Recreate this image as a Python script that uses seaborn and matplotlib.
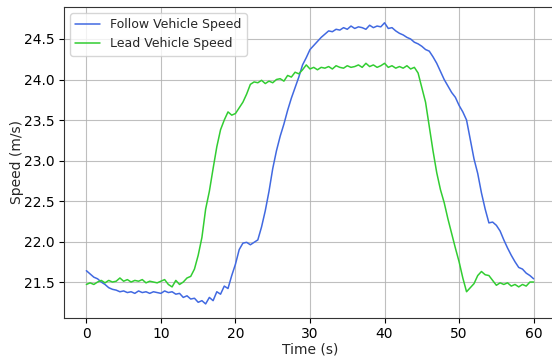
import numpy as np
import pandas as pd
import matplotlib
matplotlib.use("Agg")
import matplotlib.pyplot as plt
import seaborn as sns

time_s = np.arange(0, 60.01, 0.5)

follow_speed = [
    21.64, 21.60, 21.56, 21.54, 21.50, 21.47, 21.43, 21.41, 21.40, 21.38,
    21.39, 21.37, 21.38, 21.36, 21.39, 21.37, 21.38, 21.36, 21.38, 21.37,
    21.36, 21.39, 21.37, 21.38, 21.35, 21.36, 21.31, 21.33, 21.29, 21.30,
    21.25, 21.27, 21.23, 21.31, 21.27, 21.38, 21.35, 21.45, 21.42, 21.58,
    21.72, 21.90, 21.98, 21.99, 21.96, 21.99, 22.02, 22.18, 22.38, 22.62,
    22.90, 23.12, 23.30, 23.45, 23.62, 23.77, 23.90, 24.03, 24.18, 24.27,
    24.37, 24.42, 24.47, 24.52, 24.56, 24.60, 24.59, 24.62, 24.61, 24.64,
    24.62, 24.66, 24.63, 24.65, 24.64, 24.62, 24.67, 24.64, 24.66, 24.65,
    24.70, 24.63, 24.64, 24.60, 24.57, 24.55, 24.52, 24.50, 24.46, 24.44,
    24.41, 24.37, 24.35, 24.28, 24.20, 24.10, 24.00, 23.92, 23.84, 23.78,
    23.68, 23.60, 23.50, 23.26, 23.02, 22.84, 22.60, 22.40, 22.23, 22.24,
    22.20, 22.13, 22.02, 21.92, 21.83, 21.75, 21.68, 21.66, 21.61, 21.58,
    21.54,
]

lead_speed = [
    21.47, 21.49, 21.47, 21.50, 21.52, 21.49, 21.52, 21.50, 21.51, 21.55,
    21.51, 21.53, 21.50, 21.52, 21.51, 21.53, 21.49, 21.51, 21.50, 21.49,
    21.51, 21.53, 21.47, 21.44, 21.52, 21.47, 21.50, 21.55, 21.57, 21.66,
    21.83, 22.05, 22.40, 22.62, 22.90, 23.17, 23.38, 23.50, 23.60, 23.56,
    23.58, 23.65, 23.72, 23.82, 23.94, 23.97, 23.96, 23.99, 23.95, 23.98,
    23.96, 24.00, 24.01, 23.98, 24.05, 24.03, 24.09, 24.07, 24.12, 24.18,
    24.13, 24.15, 24.12, 24.15, 24.14, 24.16, 24.13, 24.17, 24.15, 24.14,
    24.17, 24.15, 24.16, 24.18, 24.15, 24.20, 24.16, 24.18, 24.15, 24.17,
    24.20, 24.15, 24.17, 24.14, 24.16, 24.14, 24.17, 24.13, 24.15, 24.08,
    23.90, 23.72, 23.42, 23.12, 22.85, 22.64, 22.48, 22.28, 22.10, 21.92,
    21.75, 21.55, 21.38, 21.43, 21.48, 21.58, 21.63, 21.59, 21.58, 21.52,
    21.46, 21.49, 21.47, 21.49, 21.45, 21.47, 21.44, 21.47, 21.45, 21.50,
    21.50,
]

series_names = ["Follow Vehicle Speed", "Lead Vehicle Speed"]
series_colors = ["#4169E1", "#32CD32"]

df = pd.concat([
    pd.DataFrame({"Time": time_s, "Speed": follow_speed, "Series": series_names[0]}),
    pd.DataFrame({"Time": time_s, "Speed": lead_speed, "Series": series_names[1]}),
])

sns.set_theme(style="ticks")
plt.rcParams["font.family"] = ["DejaVu Sans"]

fig = plt.figure(figsize=(5.52, 3.58), dpi=100)
ax = fig.add_axes([64 / 552, 1 - 318 / 358, (556 - 64) / 552, (318 - 7) / 358])

sns.lineplot(data=df, x="Time", y="Speed", hue="Series",
             palette=dict(zip(series_names, series_colors)),
             linewidth=1.1, ax=ax)

ax.set_xlim(-3, 63)
ax.set_ylim(21.056, 24.895)
ax.set_xticks([0, 10, 20, 30, 40, 50, 60])
ax.set_yticks([21.5, 22.0, 22.5, 23.0, 23.5, 24.0, 24.5])
ax.grid(True, color="#b0b0b0", linewidth=0.8, alpha=0.8)
ax.set_axisbelow(True)
ax.tick_params(labelsize=10, length=3.5, width=0.8, colors="black", pad=3)
for s in ax.spines.values():
    s.set_color("#333333")
    s.set_linewidth(0.8)
ax.set_xlabel("Time (s)", fontsize=10, labelpad=1)
ax.set_ylabel("Speed (m/s)", fontsize=10, labelpad=0)

leg = ax.legend(loc="upper left", fontsize=9, frameon=True)
leg.set_title(None)

fig.savefig("out.png", dpi=100)
